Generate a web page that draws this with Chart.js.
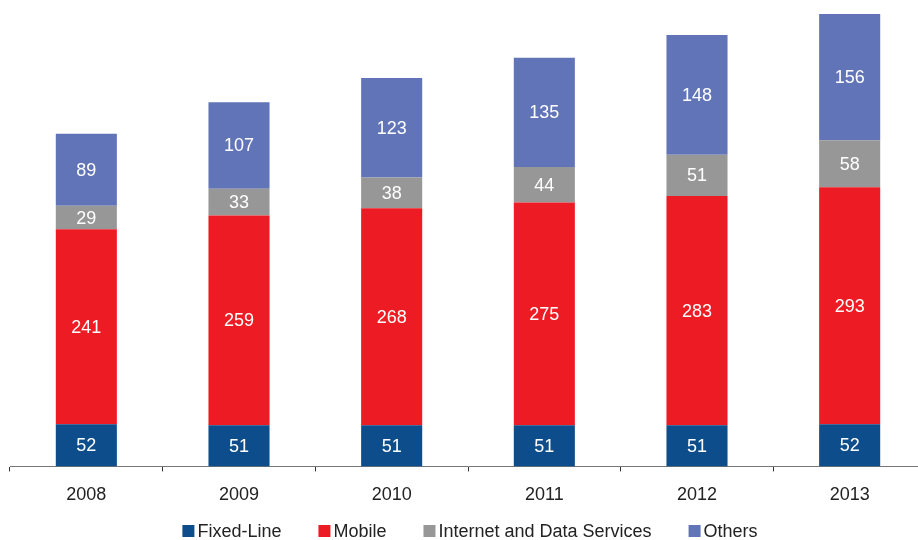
<!DOCTYPE html>
<html>
<head>
<meta charset="utf-8">
<script src="https://cdn.jsdelivr.net/npm/chart.js@4/dist/chart.umd.min.js"></script>
<style>
  html, body { margin: 0; padding: 0; background: #fff; overflow: hidden; }
  #wrap { width: 926px; height: 540px; }
</style>
</head>
<body>
<div id="wrap"><canvas id="chart"></canvas></div>
<script>
const years = ['2008', '2009', '2010', '2011', '2012', '2013'];
const fixedLine = [52, 51, 51, 51, 51, 52];
const mobile = [241, 259, 268, 275, 283, 293];
const internetData = [29, 33, 38, 44, 51, 58];
const others = [89, 107, 123, 135, 148, 156];

const FONT = '"Liberation Sans", Arial, sans-serif';

// writes each segment's value in the middle of its bar piece
const segmentLabels = {
    id: 'segmentLabels',
    afterDatasetsDraw(chart) {
        const ctx = chart.ctx;
        ctx.save();
        ctx.font = '18px ' + FONT;
        ctx.fillStyle = '#ffffff';
        ctx.textAlign = 'center';
        ctx.textBaseline = 'middle';
        chart.data.datasets.forEach((ds, i) => {
            chart.getDatasetMeta(i).data.forEach((bar, j) => {
                const y = (bar.y + bar.base) / 2;
                ctx.fillText(String(ds.data[j]), bar.x, y + 1);
            });
        });
        ctx.restore();
    }
};

// compact legend row under the axis: square marker, small gap, label
const bottomLegend = {
    id: 'bottomLegend',
    afterDraw(chart) {
        const ctx = chart.ctx;
        const box = 12, gap = 3, spacing = 37, y = 531;
        ctx.save();
        ctx.font = '18px ' + FONT;
        ctx.textBaseline = 'middle';
        const items = chart.data.datasets.map(ds => ({
            text: ds.label,
            color: ds.backgroundColor,
            w: box + gap + ctx.measureText(ds.label).width,
        }));
        const total = items.reduce((s, it) => s + it.w, 0) + spacing * (items.length - 1);
        const mid = (chart.chartArea.left + chart.chartArea.right) / 2 + 2;
        let x = mid - total / 2;
        items.forEach(it => {
            ctx.fillStyle = it.color;
            ctx.fillRect(x, y - box / 2, box, box);
            ctx.fillStyle = '#222222';
            ctx.fillText(it.text, x + box + gap, y + 1);
            x += it.w + spacing;
        });
        ctx.restore();
    }
};

new Chart(document.getElementById('chart'), {
    type: 'bar',
    data: {
        labels: years,
        datasets: [
            { label: 'Fixed-Line', data: fixedLine, backgroundColor: '#0D4D8B' },
            { label: 'Mobile', data: mobile, backgroundColor: '#ED1C24' },
            { label: 'Internet and Data Services', data: internetData, backgroundColor: '#979797' },
            { label: 'Others', data: others, backgroundColor: '#6174B8' },
        ],
    },
    options: {
        responsive: true,
        maintainAspectRatio: false,
        animation: false,
        datasets: {
            bar: { categoryPercentage: 1, barPercentage: 0.4 }
        },
        layout: { padding: { left: 10, right: 0, top: 14, bottom: 21 } },
        scales: {
            x: {
                stacked: true,
                border: { display: true, color: '#777777', width: 1 },
                grid: {
                    offset: true,
                    drawOnChartArea: false,
                    drawTicks: true,
                    tickLength: 5,
                    color: '#333333',
                },
                ticks: {
                    color: '#222222',
                    padding: 13,
                    font: { size: 18, family: FONT },
                },
            },
            y: {
                stacked: true,
                display: false,
                min: 0,
                max: 559,
            },
        },
        plugins: {
            legend: { display: false },
            tooltip: { enabled: false },
        },
    },
    plugins: [segmentLabels, bottomLegend],
});
</script>
</body>
</html>
